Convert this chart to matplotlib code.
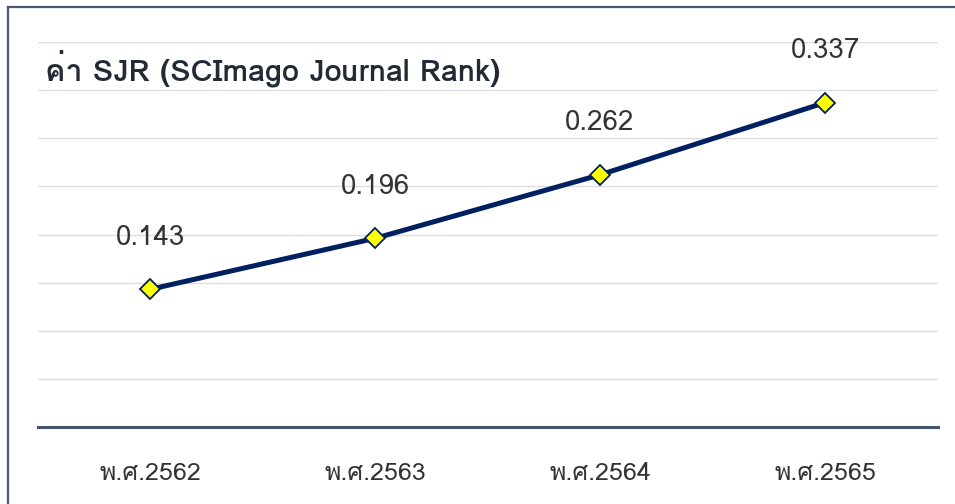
import matplotlib
matplotlib.use("Agg")
import matplotlib.pyplot as plt
from matplotlib import font_manager
from matplotlib.ft2font import FT2Font
from matplotlib.lines import Line2D

# data
years = ["พ.ศ.2562", "พ.ศ.2563", "พ.ศ.2564", "พ.ศ.2565"]
sjr = [0.143, 0.196, 0.262, 0.337]
title = "ค่า SJR (SCImago Journal Rank)"

# find an installed font that has Thai glyphs
thaiFonts = []
for ff in font_manager.fontManager.ttflist:
    try:
        if 0x0E04 in FT2Font(ff.fname).get_charmap():
            if ff.name not in thaiFonts:
                thaiFonts.append(ff.name)
    except Exception:
        pass
plt.rcParams['font.family'] = thaiFonts[:2] + ['DejaVu Sans']

fig = plt.figure(figsize=(9.55, 5.04), dpi=100)
ax = fig.add_axes([37.5 / 955, 77 / 504, 900 / 955, 385 / 504])

xs = list(range(len(years)))
ax.plot(xs, sjr, color='#002060', linewidth=3.6, marker='D', markersize=10.5,
        markerfacecolor='#ffff00', markeredgecolor='#002060', markeredgewidth=1.3,
        solid_capstyle='round', zorder=3)

for xx, vv in zip(xs, sjr):
    ax.annotate("{:.3f}".format(vv), (xx, vv), xytext=(0, 37), textcoords='offset points',
                ha='center', va='center', fontsize=20, color='#333333')

ax.set_xlim(-0.5, 3.5)
ax.set_ylim(0, 0.4)
ax.set_yticks([0.05 * ii for ii in range(1, 9)])
ax.yaxis.grid(True, color='#dcdde3', linewidth=1.0)
ax.set_axisbelow(True)
ax.tick_params(axis='y', left=False, labelleft=False)
ax.tick_params(axis='x', bottom=False, pad=22, labelsize=18, labelcolor='#333333')
ax.set_xticks(xs)
ax.set_xticklabels(years)
for sp in ['top', 'left', 'right']:
    ax.spines[sp].set_visible(False)
ax.spines['bottom'].set_color('#44546a')
ax.spines['bottom'].set_linewidth(2.2)

fig.text(45 / 955, 1 - 68 / 504, title, fontsize=22, fontweight='bold',
         color='#222a35', ha='left', va='center')

# frame around the picture (only top and left visible)
fig.add_artist(Line2D([7.5 / 955, 7.5 / 955], [0, 1 - 7 / 504], color='#4a5a70',
                      linewidth=1.6, transform=fig.transFigure))
fig.add_artist(Line2D([7.5 / 955, 1], [1 - 7 / 504, 1 - 7 / 504], color='#4a5a70',
                      linewidth=1.6, transform=fig.transFigure))

fig.savefig("out.png", dpi=100)
